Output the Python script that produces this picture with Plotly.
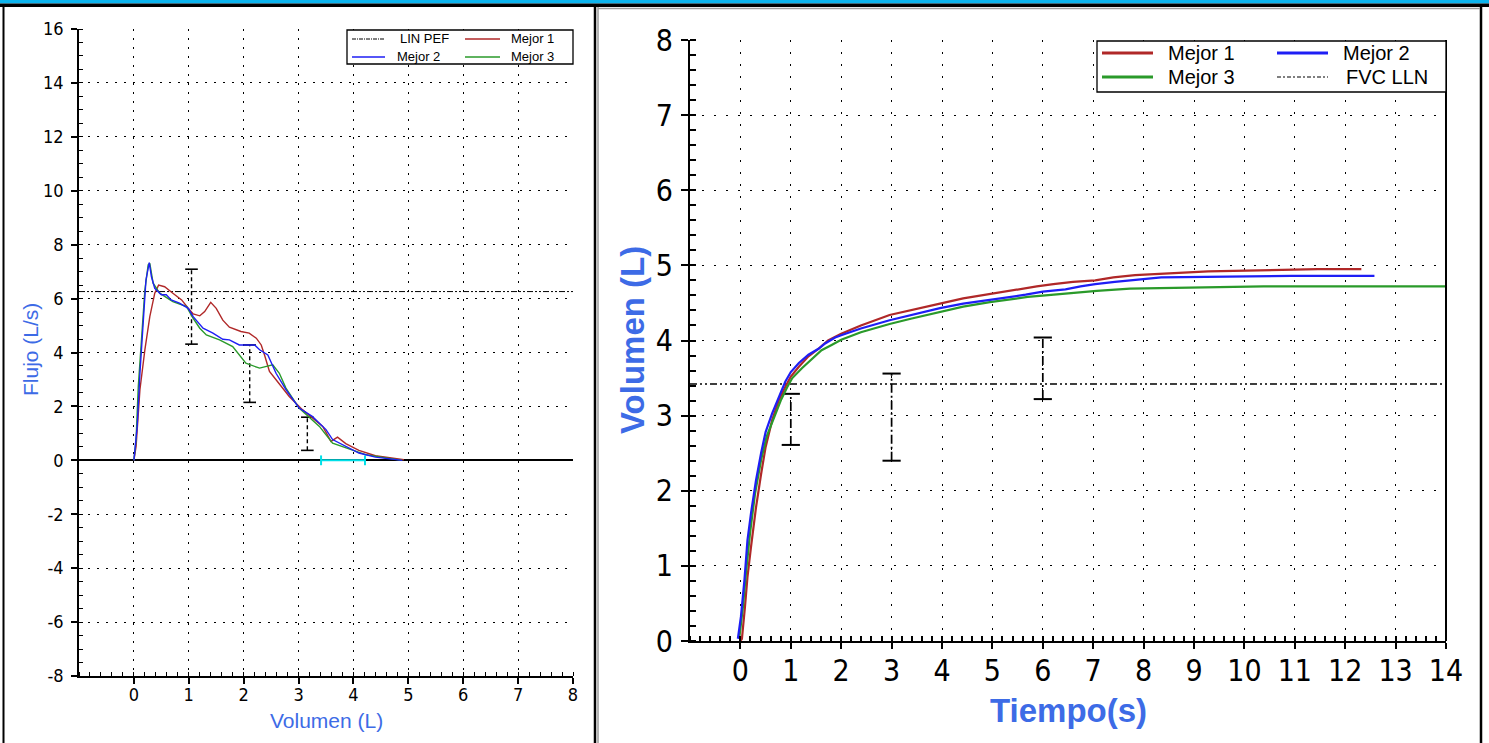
import plotly.graph_objects as go

W, H = 1489, 743

# ---------------- Flow-volume loop (left chart) ----------------
fv_vol_m1 = [0, 0.04, 0.11, 0.20, 0.29, 0.38, 0.45, 0.56, 0.71, 0.87, 0.99, 1.08, 1.20, 1.29, 1.40,
             1.50, 1.62, 1.74, 1.95, 2.10, 2.23, 2.32, 2.38, 2.47, 2.59, 2.83, 3.07, 3.44, 3.59,
             3.71, 3.86, 4.10, 4.40, 4.70, 4.92]
fv_flow_m1 = [0, 0.52, 2.62, 4.10, 5.33, 6.20, 6.50, 6.44, 6.20, 5.95, 5.64, 5.43, 5.36, 5.52, 5.86,
              5.64, 5.20, 4.94, 4.78, 4.72, 4.53, 4.28, 3.91, 3.30, 2.99, 2.37, 1.88, 1.26, 0.70,
              0.86, 0.62, 0.37, 0.17, 0.09, 0.02]

fv_vol_m2 = [0, 0.06, 0.11, 0.16, 0.22, 0.28, 0.32, 0.38, 0.50, 0.59, 0.68, 0.83, 0.99, 1.08, 1.26,
             1.44, 1.62, 1.74, 1.92, 2.20, 2.29, 2.44, 2.59, 2.77, 3.01, 3.25, 3.50, 3.62, 3.86,
             4.10, 4.40, 4.77, 4.89]
fv_flow_m2 = [0, 1.26, 3.23, 4.72, 6.69, 7.33, 6.81, 6.38, 6.14, 6.14, 5.95, 5.83, 5.64, 5.33, 4.90,
              4.72, 4.49, 4.47, 4.28, 4.28, 4.10, 3.91, 3.23, 2.62, 1.94, 1.63, 1.14, 0.77, 0.52,
              0.27, 0.12, 0.05, 0]

fv_vol_m3 = [0, 0.04, 0.08, 0.14, 0.20, 0.26, 0.29, 0.35, 0.47, 0.71, 0.96, 1.08, 1.20, 1.32, 1.56,
             1.80, 2.04, 2.29, 2.53, 2.65, 2.77, 3.01, 3.38, 3.62, 3.86, 4.22, 4.59, 4.89]
fv_flow_m3 = [0, 0.77, 2.74, 4.59, 6.32, 7.25, 7.31, 6.57, 6.20, 5.89, 5.70, 5.27, 4.90, 4.65, 4.47,
              4.22, 3.60, 3.42, 3.54, 3.23, 2.68, 1.94, 1.26, 0.64, 0.46, 0.21, 0.09, 0]

lin_pef = 6.26
fv_xrange = [-1, 8]
fv_yrange = [-8, 16]
fv_err_x = [1.05, 2.11, 3.16]
fv_err_lo = [4.31, 2.15, 0.37]
fv_err_hi = [7.09, 4.28, 1.60]
fv_cyan_x = [3.41, 4.21]
fv_cyan_y = [0, 0]
fv_xticks = list(range(0, 9))
fv_yticks = list(range(-8, 17, 2))

# ---------------- Volume-time (right chart) ----------------
vt_t_m1 = [0.0, 0.03, 0.09, 0.14, 0.21, 0.31, 0.41, 0.50, 0.63, 0.76, 0.89, 1.00, 1.16, 1.35, 1.55,
           1.74, 2.00, 2.39, 2.96, 3.38, 3.96, 4.42, 4.95, 5.15, 5.55, 5.88, 6.21, 6.60, 7.04,
           7.40, 7.83, 8.33, 9.28, 11.46, 12.32]
vt_v_m1 = [0.0, 0.03, 0.45, 0.85, 1.25, 1.78, 2.22, 2.58, 2.94, 3.20, 3.38, 3.52, 3.65, 3.79, 3.89,
           4.00, 4.09, 4.20, 4.34, 4.40, 4.49, 4.56, 4.62, 4.64, 4.69, 4.72, 4.75, 4.78, 4.80,
           4.84, 4.87, 4.89, 4.92, 4.95, 4.95]

vt_t_m2 = [-0.05, 0.01, 0.08, 0.14, 0.21, 0.31, 0.41, 0.50, 0.63, 0.76, 0.89, 1.00, 1.16, 1.35, 1.55,
           1.68, 1.88, 2.00, 2.39, 2.96, 3.38, 3.96, 4.42, 4.95, 5.30, 5.66, 6.00, 6.45, 6.75,
           7.04, 7.43, 7.79, 8.35, 10.93, 12.58]
vt_v_m2 = [0.03, 0.32, 0.81, 1.34, 1.70, 2.14, 2.50, 2.78, 3.03, 3.25, 3.45, 3.58, 3.70, 3.81, 3.89,
           3.96, 4.04, 4.07, 4.16, 4.27, 4.34, 4.43, 4.49, 4.54, 4.58, 4.61, 4.65, 4.68, 4.72,
           4.75, 4.78, 4.80, 4.84, 4.86, 4.86]

vt_t_m3 = [-0.02, 0.05, 0.11, 0.19, 0.29, 0.41, 0.52, 0.67, 0.80, 0.93, 1.03, 1.22, 1.42, 1.61, 1.81,
           2.00, 2.39, 2.96, 3.38, 3.96, 4.42, 4.95, 5.35, 5.70, 6.05, 6.50, 7.07, 7.73, 10.38, 14.0]
vt_v_m3 = [0.05, 0.45, 0.90, 1.43, 1.96, 2.41, 2.72, 2.98, 3.20, 3.38, 3.50, 3.63, 3.76, 3.87, 3.94,
           4.01, 4.11, 4.22, 4.29, 4.38, 4.45, 4.51, 4.55, 4.58, 4.60, 4.63, 4.66, 4.69, 4.72, 4.72]

fvc_lln = 3.42
vt_xrange = [-1, 14]
vt_yrange = [0, 8]
vt_err_x = [1, 3, 6]
vt_err_lo = [2.61, 2.40, 3.22]
vt_err_hi = [3.29, 3.56, 4.04]
vt_xticks = list(range(0, 15))
vt_yticks = list(range(0, 9))

# ---------------- styles ----------------
RED = "#B02828"
BLUE = "#1E1EF5"
GREEN = "#2A9A2A"
CYAN = "#00E0E8"
TITLE_BLUE = "#3D6BE6"
NARROW = "Liberation Sans Narrow, Arial Narrow, DejaVu Sans Condensed, sans-serif"
SANS = "Liberation Sans, Arial, sans-serif"


def px(x):
    return x / W


def py(y):
    return 1 - y / H


fig = go.Figure()

# ---- left chart traces ----
fig.add_trace(go.Scatter(x=fv_xrange, y=[lin_pef, lin_pef], mode="lines", xaxis="x", yaxis="y",
                         line=dict(color="black", width=1, dash="6px,2px,2px,2px,2px,2px"),
                         name="LIN PEF", hoverinfo="skip"))
for xv, lo, hi in zip(fv_err_x, fv_err_lo, fv_err_hi):
    fig.add_trace(go.Scatter(x=[xv, xv], y=[lo, hi], mode="lines+markers", xaxis="x", yaxis="y",
                             line=dict(color="black", width=1.4, dash="4px,3px"),
                             marker=dict(symbol="line-ew", size=9,
                                         line=dict(color="black", width=1.6)),
                             hoverinfo="skip"))
fig.add_trace(go.Scatter(x=fv_cyan_x, y=fv_cyan_y, mode="lines+markers", xaxis="x", yaxis="y",
                         line=dict(color=CYAN, width=2),
                         marker=dict(symbol="line-ns", size=7, line=dict(color=CYAN, width=2)),
                         hoverinfo="skip"))
fig.add_trace(go.Scatter(x=fv_vol_m1, y=fv_flow_m1, mode="lines", xaxis="x", yaxis="y",
                         line=dict(color=RED, width=1.4), name="Mejor 1"))
fig.add_trace(go.Scatter(x=fv_vol_m3, y=fv_flow_m3, mode="lines", xaxis="x", yaxis="y",
                         line=dict(color=GREEN, width=1.4), name="Mejor 3"))
fig.add_trace(go.Scatter(x=fv_vol_m2, y=fv_flow_m2, mode="lines", xaxis="x", yaxis="y",
                         line=dict(color=BLUE, width=1.4), name="Mejor 2"))

# ---- right chart traces ----
fig.add_trace(go.Scatter(x=vt_xrange, y=[fvc_lln, fvc_lln], mode="lines", xaxis="x2", yaxis="y2",
                         line=dict(color="black", width=1.6, dash="7px,3px,2px,3px,2px,3px"),
                         name="FVC LLN", hoverinfo="skip"))
for xv, lo, hi in zip(vt_err_x, vt_err_lo, vt_err_hi):
    fig.add_trace(go.Scatter(x=[xv, xv], y=[lo, hi], mode="lines+markers", xaxis="x2", yaxis="y2",
                             line=dict(color="black", width=1.7, dash="9px,3px,2px,3px"),
                             marker=dict(symbol="line-ew", size=13,
                                         line=dict(color="black", width=2)),
                             hoverinfo="skip"))
fig.add_trace(go.Scatter(x=vt_t_m1, y=vt_v_m1, mode="lines", xaxis="x2", yaxis="y2",
                         line=dict(color=RED, width=2.2), name="Mejor 1"))
fig.add_trace(go.Scatter(x=vt_t_m3, y=vt_v_m3, mode="lines", xaxis="x2", yaxis="y2",
                         line=dict(color=GREEN, width=2.2), name="Mejor 3"))
fig.add_trace(go.Scatter(x=vt_t_m2, y=vt_v_m2, mode="lines", xaxis="x2", yaxis="y2",
                         line=dict(color=BLUE, width=2.2), name="Mejor 2"))

GRID_L = "2px,7px"
GRID_R = "2px,10px"

axis_common = dict(showline=True, linecolor="black", tickcolor="black",
                   gridcolor="black", gridwidth=1, fixedrange=True, automargin=False)

fig.update_layout(
    width=W, height=H, autosize=False, margin=dict(l=0, r=0, t=0, b=0, pad=0),
    paper_bgcolor="white", plot_bgcolor="white", showlegend=False,
    xaxis=dict(domain=[px(79), px(573)], range=fv_xrange, anchor="y",
               tickvals=fv_xticks, ticktext=[str(v) for v in fv_xticks],
               ticks="outside", ticklen=6, tickwidth=1.5, linewidth=1.5,
               ticklabelstandoff=-4,
               tickfont=dict(family=NARROW, size=18, color="black"),
               showgrid=True, griddash=GRID_L, zeroline=False,
               minor=dict(dtick=0.2, tick0=0, ticks="inside", ticklen=4, tickwidth=1,
                          tickcolor="black", showgrid=False),
               **axis_common),
    yaxis=dict(domain=[py(676), py(29)], range=fv_yrange, anchor="x",
               tickvals=fv_yticks, ticktext=[str(v) for v in fv_yticks],
               ticks="outside", ticklen=6, tickwidth=1.5, linewidth=1.5,
               ticklabelstandoff=4,
               tickfont=dict(family=NARROW, size=18, color="black"),
               showgrid=True, griddash=GRID_L,
               minor=dict(dtick=0.5, tick0=0, ticks="inside", ticklen=4, tickwidth=1,
                          tickcolor="black", showgrid=False),
               zeroline=True, zerolinecolor="black", zerolinewidth=1.5,
               **axis_common),
    xaxis2=dict(domain=[px(690), px(1446)], range=vt_xrange, anchor="y2",
                tickvals=vt_xticks, ticktext=[str(v) for v in vt_xticks],
                ticks="outside", ticklen=6, tickwidth=2, linewidth=2,
                ticklabelstandoff=-4,
                tickfont=dict(family=NARROW, size=30, color="black"),
                showgrid=True, griddash=GRID_R, zeroline=False,
                minor=dict(dtick=0.2, tick0=0, ticks="inside", ticklen=5, tickwidth=1.5,
                           tickcolor="black", showgrid=False),
                **axis_common),
    yaxis2=dict(domain=[py(641), py(40)], range=vt_yrange, anchor="x2",
                tickvals=vt_yticks, ticktext=[str(v) for v in vt_yticks],
                ticks="outside", ticklen=7, tickwidth=2, linewidth=2,
                ticklabelstandoff=2,
                tickfont=dict(family=NARROW, size=30, color="black"),
                showgrid=True, griddash=GRID_R, zeroline=False,
                minor=dict(dtick=0.2, tick0=0, ticks="inside", ticklen=6, tickwidth=1.5,
                           tickcolor="black", showgrid=False),
                **axis_common),
)

shapes = []
annotations = []

# frame / panel decorations
shapes.append(dict(type="rect", xref="paper", yref="paper", x0=0, x1=1, y0=py(3.5), y1=1,
                   fillcolor="#0CB4EE", line=dict(width=0), layer="above"))
shapes.append(dict(type="rect", xref="paper", yref="paper", x0=0, x1=1, y0=py(7), y1=py(3.5),
                   fillcolor="black", line=dict(width=0), layer="above"))
for xline, col, wd in [(3.5, "black", 2), (595, "black", 2.5), (598, "#9A9A9A", 1.5),
                       (1481, "black", 2.5)]:
    shapes.append(dict(type="line", xref="paper", yref="paper", x0=px(xline), x1=px(xline),
                       y0=0, y1=py(7), line=dict(color=col, width=wd), layer="above"))
shapes.append(dict(type="line", xref="paper", yref="paper", x0=px(598), x1=px(1480),
                   y0=py(8.5), y1=py(8.5), line=dict(color="#9A9A9A", width=1.5), layer="above"))
# right border of right plot
shapes.append(dict(type="line", xref="x2 domain", yref="y2 domain", x0=1, x1=1, y0=0, y1=1,
                   line=dict(color="black", width=2)))


def legend_box(x0, x1, y0, y1, entries, fsize, family):
    shapes.append(dict(type="rect", xref="paper", yref="paper", x0=px(x0), x1=px(x1),
                       y0=py(y1), y1=py(y0), fillcolor="white",
                       line=dict(color="black", width=1.3), layer="above"))
    for (lx0, lx1, ly, color, dash, width, text, tx) in entries:
        shapes.append(dict(type="line", xref="paper", yref="paper", x0=px(lx0), x1=px(lx1),
                           y0=py(ly), y1=py(ly), line=dict(color=color, width=width, dash=dash),
                           layer="above"))
        annotations.append(dict(xref="paper", yref="paper", x=px(tx), y=py(ly), text=text,
                                showarrow=False, xanchor="left", yanchor="middle",
                                font=dict(family=family, size=fsize, color="black")))


legend_box(347, 573, 30, 64, [
    (352, 385, 39, "black", "4px,1px,1px,1px", 1, "LIN PEF", 398),
    (465, 500, 39, RED, "solid", 1.5, "Mejor 1", 509),
    (352, 385, 57, BLUE, "solid", 1.5, "Mejor 2", 395),
    (465, 500, 57, GREEN, "solid", 1.5, "Mejor 3", 509),
], 13, SANS)

legend_box(1097, 1446, 41, 92, [
    (1102, 1153, 53, RED, "solid", 3, "Mejor 1", 1166),
    (1277, 1328, 53, BLUE, "solid", 3, "Mejor 2", 1341),
    (1102, 1153, 77, GREEN, "solid", 3, "Mejor 3", 1166),
    (1277, 1328, 77, "black", "4px,2px,2px,2px", 1.2, "FVC LLN", 1344),
], 20, SANS)

# axis titles
annotations.append(dict(xref="paper", yref="paper", x=px(326), y=py(720), text="Volumen (L)",
                        showarrow=False, xanchor="center", yanchor="middle",
                        font=dict(family=SANS, size=21, color=TITLE_BLUE)))
annotations.append(dict(xref="paper", yref="paper", x=px(30), y=py(349), text="Flujo (L/s)",
                        showarrow=False, xanchor="center", yanchor="middle", textangle=-90,
                        font=dict(family=SANS, size=21, color=TITLE_BLUE)))
annotations.append(dict(xref="paper", yref="paper", x=px(1068), y=py(710), text="<b>Tiempo(s)</b>",
                        showarrow=False, xanchor="center", yanchor="middle",
                        font=dict(family=SANS, size=33, color=TITLE_BLUE)))
annotations.append(dict(xref="paper", yref="paper", x=px(632), y=py(340), text="<b>Volumen (L)</b>",
                        showarrow=False, xanchor="center", yanchor="middle", textangle=-90,
                        font=dict(family=SANS, size=33, color=TITLE_BLUE)))

fig.update_layout(shapes=shapes, annotations=annotations)

fig.write_html(
    "out.html", config={"displayModeBar": False},
    post_script=("var d=document.getElementById('{plot_id}');"
                 "d.style.position='absolute';d.style.left='0px';d.style.top='0px';"),
)
